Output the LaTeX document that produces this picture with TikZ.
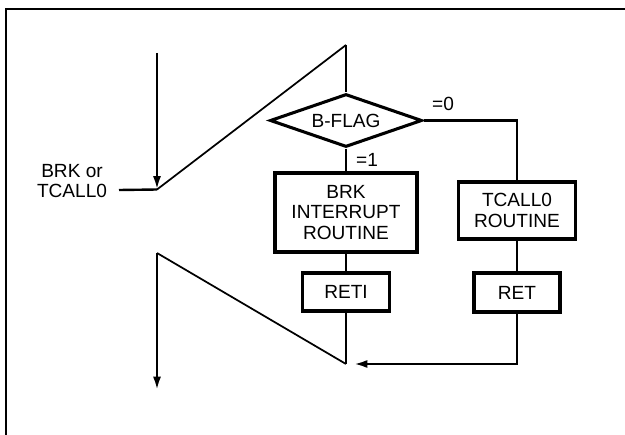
\documentclass[tikz,border=0pt]{standalone}
\usepackage{fontspec}
\setmainfont{Liberation Sans}
\usetikzlibrary{shapes.geometric, arrows.meta, positioning, calc}

\begin{document}
\begin{tikzpicture}[
  x=0.75pt, y=-0.75pt,
  font=\fontsize{14.3}{15.2}\selectfont,
  fcline/.style={draw=black, line width=1.8pt},
  fcthin/.style={draw=black, line width=1.3pt},
  fcarrow/.style={fcline, -{Latex[length=10pt, width=6pt]}},
  fcbox/.style={draw=black, fill=white, line width=2.3pt, align=center, inner sep=2pt},
  fcdec/.style={fcbox, diamond, aspect=2.9, inner sep=0pt},
  lab/.style={inner sep=1pt}
]
\useasboundingbox (0,0) rectangle (625,435);

%--------------------------------------------------------------
% Cornice
%--------------------------------------------------------------
\draw[line width=1.8pt] (6,435) -- (6,9) -- (625,9);

%--------------------------------------------------------------
% Blocchi del diagramma
%--------------------------------------------------------------
\node[fcdec, minimum width=114pt, minimum height=39.75pt] (flag) at (346,120.5) {B-FLAG};
\node[fcbox, minimum width=106.5pt, minimum height=59.25pt] (brk) at (346,212.5) {BRK\\ INTERRUPT\\ ROUTINE};
\node[fcbox, minimum width=65.25pt, minimum height=28.5pt] (reti) at (346,292) {RETI};
\node[fcbox, minimum width=87.75pt, minimum height=42.75pt] (tcall) at (517,210.5) {TCALL0\\ ROUTINE};
\node[fcbox, minimum width=64.5pt, minimum height=29.25pt] (ret) at (517,292.5) {RET};

\node[lab, align=center] (src) at (72,181) {BRK or\\ TCALL0};
\node[lab] (eq1) at (367,160) {=1};
\node[lab] (eq0) at (443,104) {=0};

% punti di appoggio
\coordinate (srcEnd) at (119,190);
\coordinate (inTop) at (157,53);
\coordinate (inPt) at (157,189.5);
\coordinate (peak) at (346,45);
\coordinate (fork) at (517,120.5);
\coordinate (corner) at (517,364);
\coordinate (join) at (346,364);
\coordinate (outTop) at (157,253);
\coordinate (outEnd) at (157,390);

%--------------------------------------------------------------
% Collegamenti
%--------------------------------------------------------------
\draw[fcline] (srcEnd) -- (inPt);
\draw[fcarrow] (inTop) -- (inPt);
\draw[fcthin] (inPt) -- (peak);
\draw[fcline] (peak) -- (flag.north);

\draw[fcline] (flag.south) -- (brk.north);
\draw[fcline] (brk.south) -- (reti.north);
\draw[fcline] (reti.south) -- (join);

\draw[fcline] (flag.east) -- (fork) -- (tcall.north);
\draw[fcline] (tcall.south) -- (ret.north);
\draw[fcarrow, shorten >=6pt] (ret.south) -- (corner) -- (join);

\draw[fcthin] (join) -- (outTop);
\draw[fcarrow] (outTop) -- (outEnd);

\end{tikzpicture}
\end{document}
